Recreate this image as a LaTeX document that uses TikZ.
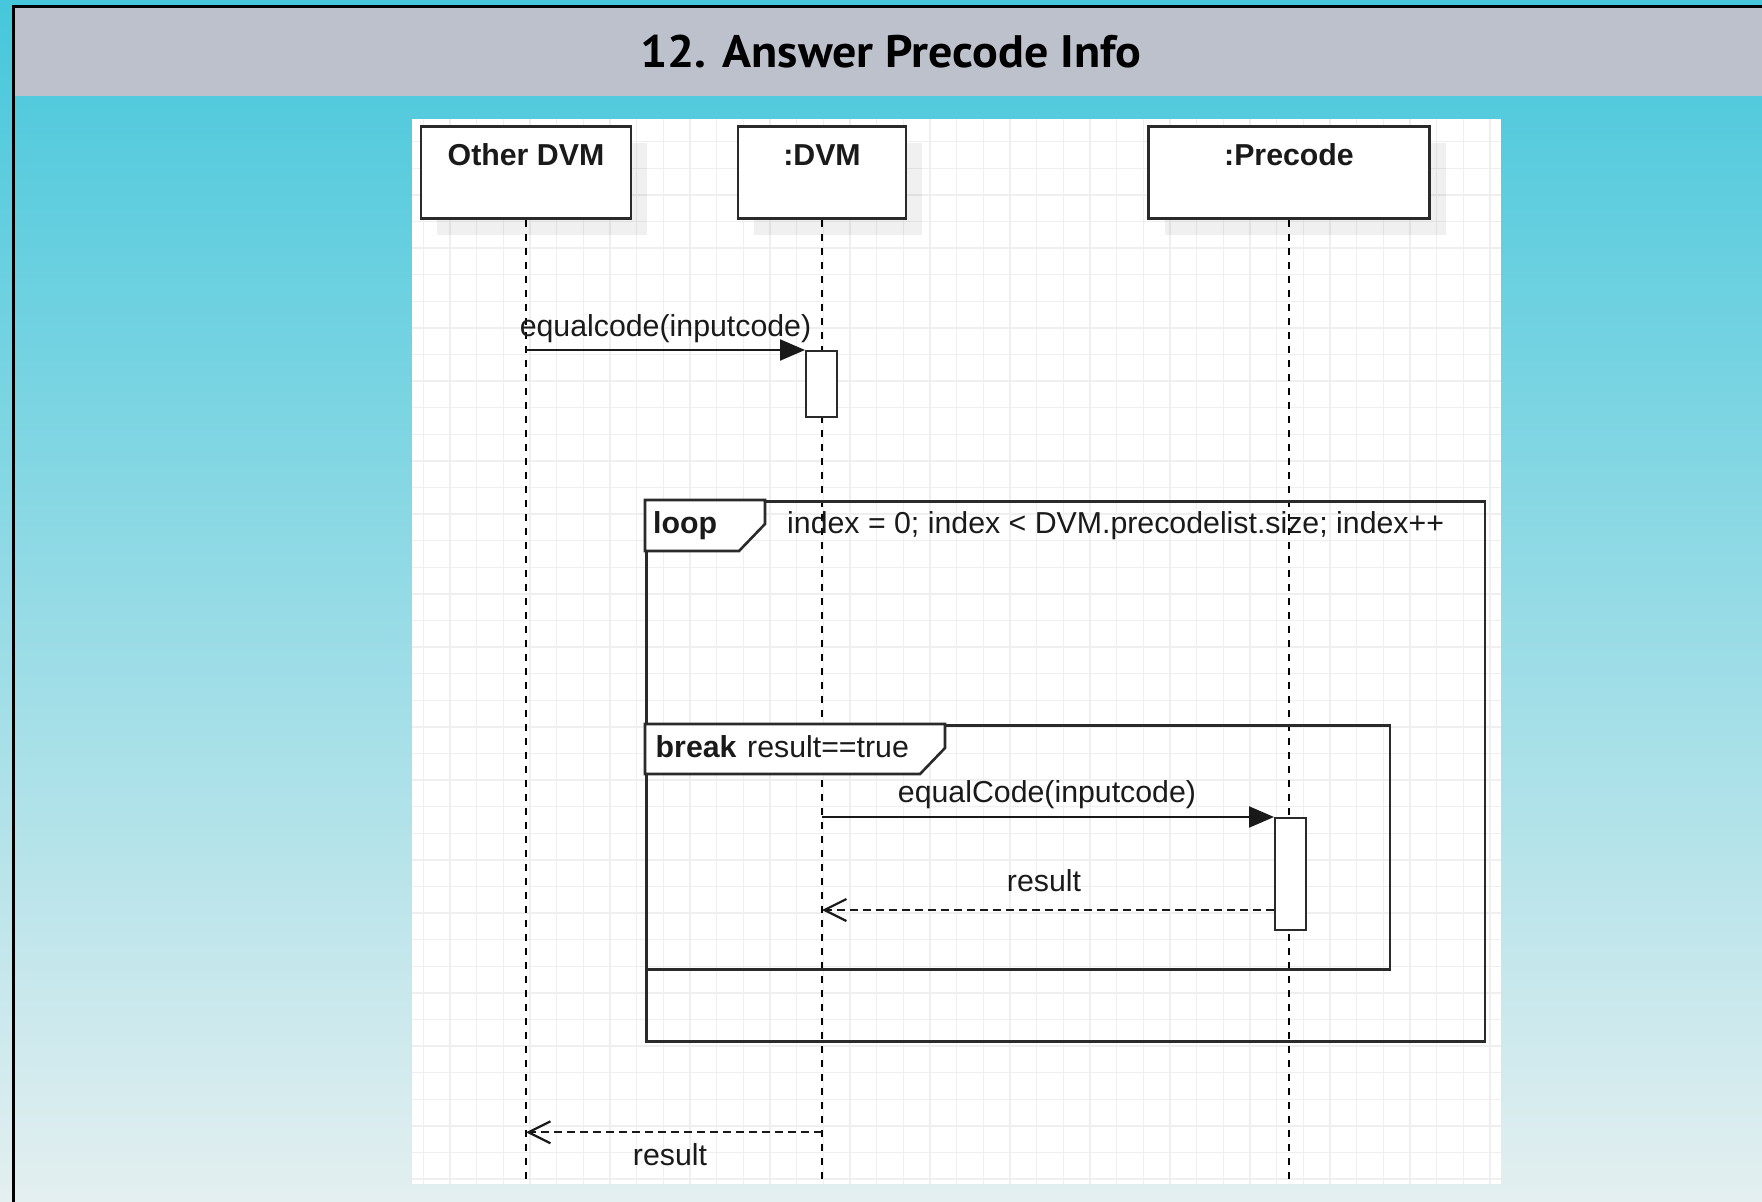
\documentclass[tikz,border=0pt]{standalone}
\usepackage{fontspec}
\setmainfont{Liberation Sans}
\newfontfamily\titlefont{PT Sans}
\usetikzlibrary{arrows.meta,shadows,calc}
\definecolor{bgtop}{HTML}{46C7DB}
\definecolor{bgbot}{HTML}{E4EFF0}
\definecolor{band}{HTML}{BCC1CC}
\definecolor{gridc}{HTML}{EFEFEF}
\definecolor{ink}{HTML}{2A2A2A}
\definecolor{txt}{HTML}{1A1A1A}
\tikzset{
  lbl/.style={font=\fontsize{30.3}{36}\selectfont, text=txt, inner sep=0pt},
  blbl/.style={font=\fontsize{30.3}{36}\selectfont\bfseries, text=txt, inner sep=0pt},
  head/.style={draw=ink, line width=2.6pt, fill=white, inner sep=0pt,
    drop shadow={shadow xshift=16pt, shadow yshift=-16pt, fill=black, opacity=0.06}},
  lifeline/.style={draw=black, line width=2.6pt, dash pattern=on 7pt off 7pt},
  msg/.style={draw=black!90, line width=2.2pt, -{Triangle[length=25pt,width=21pt]}},
  ret/.style={draw=black!90, line width=2.2pt, dash pattern=on 8pt off 5pt,
    -{Straight Barb[length=22pt,width=22pt]}},
  umlframe/.style={draw=ink, line width=2.8pt, inner sep=0pt, anchor=north west},
  tabshape/.style={draw=ink, line width=2.6pt, fill=white, line join=miter},
  act/.style={draw=ink, line width=2.4pt, fill=white, inner sep=0pt, anchor=north west},
  gridline/.style={draw=gridc, line width=1.4pt}
}
\begin{document}
\begin{tikzpicture}[x=1pt,y=-1pt]
\useasboundingbox (0,0) rectangle (1762,1202);
% background
\shade[top color=bgtop, bottom color=bgbot] (0,0) rectangle (1762,1202);
\fill[band] (15,8) rectangle (1762,96);
\draw[black, line width=2.5pt] (12.5,6.3) -- (1762,6.3);
\draw[black, line width=2.5pt] (13.5,5) -- (13.5,1202);
\node[anchor=base, inner sep=0pt, font=\titlefont\bfseries\fontsize{45.5}{52}\selectfont] (title) at (891,67) {\scalebox{1.055}[1]{12. Answer Precode Info}};
% diagram panel
\fill[white] (412,119) rectangle (1501,1183.5);
\foreach \i in {0,...,40} \draw[gridline] ({423.3+26.67*\i},119) -- ({423.3+26.67*\i},1183.5);
\foreach \j in {0,...,39} \draw[gridline] (412,{141.7+26.6*\j}) -- (1501,{141.7+26.6*\j});
% lifeline heads
\node[head, minimum width=210pt, minimum height=92pt] (odvm) at (526,172.5) {};
\node[blbl, anchor=base] (odvmT) at (526,165) {Other DVM};
\node[head, minimum width=168pt, minimum height=92pt] (dvm) at (822,172.5) {};
\node[blbl, anchor=base] (dvmT) at (822,165) {:DVM};
\node[head, minimum width=281pt, minimum height=92pt] (pre) at (1289,172.5) {};
\node[blbl, anchor=base] (preT) at (1289,165) {:Precode};
% lifelines
\coordinate (oEnd) at ($(odvm.south)+(0,960)$);
\coordinate (dEnd) at ($(dvm.south)+(0,960)$);
\coordinate (pEnd) at ($(pre.south)+(0,960)$);
\draw[lifeline] (odvm.south) -- (oEnd);
\draw[lifeline] (dvm.south) -- (dEnd);
\draw[lifeline] (pre.south) -- (pEnd);
% frames
\node[umlframe, minimum width=838.5pt, minimum height=540pt] (loop) at (645,500) {};
\draw[tabshape] (loop.north west) -- ++(120,0) -- ++(0,24) -- ++(-26,27) -- ++(-94,0) -- cycle;
\node[blbl, anchor=base west] (loopK) at (653,533.3) {loop};
\node[lbl, anchor=base west] (loopG) at (787,533.3) {index = 0; index < DVM.precodelist.size; index++};
\node[umlframe, minimum width=743.5pt, minimum height=244pt] (brk) at (645,724) {};
\draw[tabshape] (brk.north west) -- ++(300,0) -- ++(0,24) -- ++(-25,26) -- ++(-275,0) -- cycle;
\node[blbl, anchor=base west] (brkK) at (655.5,757.7) {break};
\node[lbl, anchor=base west] (brkG) at (747,757.7) {result==true};
% activations
\node[act, minimum width=31pt, minimum height=66pt] (act1) at (805,350) {};
\node[act, minimum width=30.5pt, minimum height=112pt] (act2) at (1274,817) {};
% messages
\coordinate (m1s) at (odvm.south |- act1.north);
\draw[msg] (m1s) -- node[lbl, pos=0.5, anchor=base, yshift=13.5pt] (m1L) {equalcode(inputcode)} (act1.north west);
\coordinate (m2s) at (dvm.south |- act2.north);
\draw[msg] (m2s) -- node[lbl, pos=0.5, anchor=base, yshift=15pt, xshift=-1pt] (m2L) {equalCode(inputcode)} (act2.north west);
\coordinate (r1s) at (1274,910);
\coordinate (r1e) at (dvm.south |- r1s);
\draw[ret] (r1s) -- node[lbl, pos=0.5, anchor=base, yshift=18.3pt, xshift=-4pt] (r1L) {result} (r1e);
\coordinate (y2) at (0,1132.3);
\coordinate (r2s) at (dvm.south |- y2);
\coordinate (r2e) at (odvm.south |- y2);
\draw[ret] (r2s) -- node[lbl, pos=0.5, anchor=base, yshift=-32.7pt, xshift=-4pt] (r2L) {result} (r2e);
\end{tikzpicture}
\end{document}
